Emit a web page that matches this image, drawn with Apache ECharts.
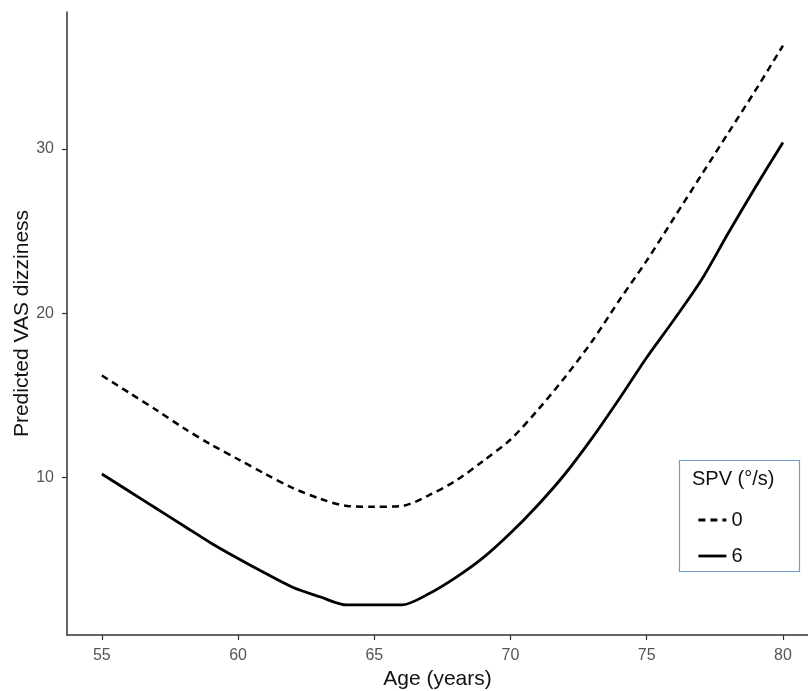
<!DOCTYPE html>
<html>
<head>
<meta charset="utf-8">
<script src="https://cdn.jsdelivr.net/npm/echarts@6/dist/echarts.min.js"></script>
<style>
html,body{margin:0;padding:0;background:#fff;}
#chart{width:808px;height:691px;}
</style>
</head>
<body>
<div id="chart"></div>
<script>
const ages = [55,56,57,58,59,60,61,62,63,64,65,66,67,68,69,70,71,72,73,74,75,76,77,78,79,80];
const spv0 = [16.2,15.15,14.1,13.0,12.0,11.1,10.2,9.35,8.7,8.25,8.2,8.25,8.9,9.8,11.0,12.3,14.1,16.1,18.3,20.8,23.2,25.8,28.4,31.0,33.6,36.3];
const spv6 = [10.2,9.15,8.1,7.05,6.0,5.05,4.15,3.3,2.72,2.22,2.22,2.22,2.9,3.9,5.1,6.6,8.3,10.2,12.4,14.8,17.3,19.6,22.0,24.9,27.7,30.4];
const xTicks = [55,60,65,70,75,80];
const yTicks = [10,20,30];
const seriesNames = ['0','6'];

const chart = echarts.init(document.getElementById('chart'));
const font = 'Liberation Sans, Arial, sans-serif';
chart.setOption({
  animation: false,
  backgroundColor: '#fff',
  grid: {left: 67, right: 0, top: 12, bottom: 56, containLabel: false, outerBoundsMode: 'none'},
  xAxis: {
    type: 'value', min: 53.72, max: 80.92,
    name: 'Age (years)', nameLocation: 'middle', nameGap: 34, nameMoveOverlap: false,
    nameTextStyle: {fontFamily: font, fontSize: 21, color: '#111'},
    axisLine: {show: true, lineStyle: {color: '#333', width: 1.5}},
    axisTick: {show: true, customValues: xTicks, length: 5, lineStyle: {color: '#333', width: 1.2}},
    axisLabel: {customValues: xTicks, fontFamily: font, fontSize: 16, color: '#555', margin: 13},
    splitLine: {show: false}
  },
  yAxis: {
    type: 'value', min: 0.39, max: 38.35,
    name: 'Predicted VAS dizziness', nameLocation: 'middle', nameGap: 34, nameMoveOverlap: false,
    nameTextStyle: {fontFamily: font, fontSize: 21, color: '#111'},
    axisLine: {show: true, lineStyle: {color: '#333', width: 1.5}},
    axisTick: {show: true, customValues: yTicks, length: 5, lineStyle: {color: '#333', width: 1.2}},
    axisLabel: {customValues: yTicks, fontFamily: font, fontSize: 16, color: '#555', margin: 13},
    splitLine: {show: false}
  },
  legend: {
    orient: 'vertical', left: 692, top: 505,
    itemWidth: 28, itemHeight: 14, itemGap: 16,
    itemStyle: {opacity: 0},
    lineStyle: {width: 2.8},
    textStyle: {fontFamily: font, fontSize: 20, color: '#111'},
    data: seriesNames
  },
  graphic: [
    {type: 'rect', left: 677, top: 458, shape: {width: 120, height: 111},
     style: {fill: 'none', stroke: '#6f9fcf', lineWidth: 1.2}, z: 100},
    {type: 'text', left: 692, top: 469,
     style: {text: 'SPV (°/s)', font: '20px ' + font, fill: '#111'}, z: 101}
  ],
  series: [
    {name: seriesNames[0], type: 'line', symbol: 'none', smooth: 0.3,
     data: ages.map((a, i) => [a, spv0[i]]),
     lineStyle: {color: '#000', width: 2.5, type: [7, 5]}, itemStyle: {color: '#000'}},
    {name: seriesNames[1], type: 'line', symbol: 'none', smooth: 0.3,
     data: ages.map((a, i) => [a, spv6[i]]),
     lineStyle: {color: '#000', width: 2.8, type: 'solid'}, itemStyle: {color: '#000'}}
  ]
});
</script>
</body>
</html>
